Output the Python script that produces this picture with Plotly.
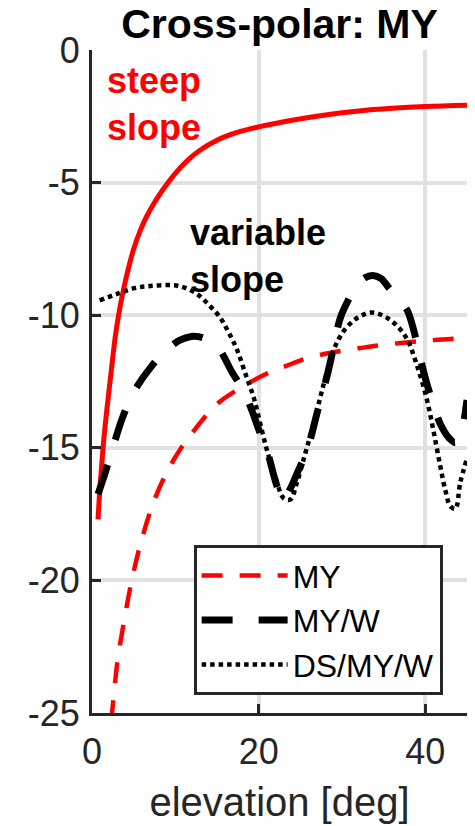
import plotly.graph_objects as go

# ---- data ----
steep_x = [0.72, 1.0, 1.3, 1.6, 2.0, 2.4, 2.8, 3.3, 3.8, 4.4, 5.0, 5.8, 6.6, 7.5, 8.5, 10.0, 11.5, 13.0, 15.0, 17.5,
           20.0, 24.0, 28.0, 32.0, 36.0, 40.0, 45.0]
steep_y = [-17.7, -16.3, -15.1, -14.1, -12.95, -11.85, -10.8, -9.8, -9.0, -8.2, -7.5, -6.8, -6.25, -5.75, -5.27, -4.65,
           -4.15, -3.77, -3.4, -3.1, -2.9, -2.65, -2.45, -2.3, -2.2, -2.13, -2.08]

my_x = [2.3, 2.52, 3.05, 3.8, 4.73, 5.85, 7.33, 8.9, 10.5, 12.5, 15.0, 18.6, 21.0, 23.4, 26.0, 28.9, 32.0, 34.6, 38.0, 41.0, 45.0]
my_y = [-25.3, -24.64, -23.07, -21.62, -20.06, -18.59, -17.1, -15.97, -15.1, -14.25, -13.35, -12.6, -12.2, -11.9, -11.6,
        -11.4, -11.25, -11.13, -11.02, -10.94, -10.86]

myw_x = [0.72, 1.42, 2.5, 3.62, 5.0, 7.2, 9.0, 10.5, 11.9, 13.3, 14.9, 16.9, 18.1, 19.2, 20.0, 21.0, 22.1,
         22.9, 23.7, 24.7, 25.8, 27.0, 28.2, 29.0, 29.8, 30.8, 31.7, 32.7, 33.7, 34.7, 35.7, 36.8, 37.8, 38.5, 39.3, 40.2,
         41.0, 41.8, 42.9, 43.6, 44.3, 45.0]
myw_y = [-16.75, -16.1, -15.0, -13.9, -12.9, -11.9, -11.3, -10.95, -10.8, -10.85, -11.13, -12.2, -12.8,
         -13.6, -14.3, -15.1, -16.35, -16.98, -16.6, -15.9, -15.1, -13.7, -12.3, -11.2, -10.1, -9.4, -8.93, -8.6, -8.5,
         -8.62, -9.0, -9.4, -9.8, -10.44, -11.5, -12.6, -13.4, -14.1, -14.65, -14.8, -14.4, -13.2]

ds_x = [0.92, 3.0, 5.1, 7.0, 9.7, 11.0, 12.6, 14.0, 15.4, 16.4, 17.4, 18.4, 19.4, 20.2, 21.0, 22.0, 23.0, 23.8, 24.6, 25.6,
        26.6, 27.8, 29.0, 30.2, 31.4, 32.4, 33.4, 34.4, 35.4, 36.6, 37.8, 39.0, 40.2, 41.0, 41.8, 42.4, 43.0, 43.6, 44.2, 45.0]
ds_y = [-9.44, -9.2, -8.98, -8.9, -8.87, -8.95, -9.2, -9.6, -10.1, -10.65, -11.3, -12.2, -13.1, -14.1, -15.1, -16.1, -16.9,
        -16.95, -16.3, -15.2, -14.1, -12.6, -11.3, -10.6, -10.2, -10.0, -9.9, -9.95, -10.1, -10.4, -10.9, -11.9, -13.2,
        -14.4, -15.7, -16.6, -17.2, -17.3, -16.3, -15.4]

x_ticks = [0, 20, 40]
y_ticks = [0, -5, -10, -15, -20, -25]

FONT = "Liberation Sans, Arial, sans-serif"
AX = "#262626"

fig = go.Figure()
fig.add_trace(go.Scatter(x=steep_x, y=steep_y, mode="lines", showlegend=False,
                         line=dict(color="#ff0000", width=5, shape="spline", smoothing=1.0)))
fig.add_trace(go.Scatter(x=my_x, y=my_y, mode="lines", name="MY",
                         line=dict(color="#ff0000", width=4.5, dash="21px,17px", shape="spline", smoothing=1.0)))
fig.add_trace(go.Scatter(x=myw_x, y=myw_y, mode="lines", name="MY/W",
                         line=dict(color="#000000", width=7, dash="31px,26px", shape="spline", smoothing=1.0)))
fig.add_trace(go.Scatter(x=ds_x, y=ds_y, mode="lines", name="DS/MY/W",
                         line=dict(color="#000000", width=4.5, dash="4.5px,4px", shape="spline", smoothing=1.0)))

fig.add_annotation(x=1.6, y=-0.3, xref="x", yref="y", xanchor="left", yanchor="top", align="left",
                   text="<b>steep<br>slope</b>", showarrow=False,
                   font=dict(family=FONT, size=36, color="#ff0000"))
fig.add_annotation(x=11.5, y=-6.05, xref="x", yref="y", xanchor="left", yanchor="top", align="left",
                   text="<b>variable<br>slope</b>", showarrow=False,
                   font=dict(family=FONT, size=36, color="#000000"))

fig.update_layout(
    width=475, height=826,
    margin=dict(l=92, r=8, t=50, b=113),
    paper_bgcolor="white", plot_bgcolor="white",
    font=dict(family=FONT, color=AX),
    title=dict(text="<b>Cross-polar: MY</b>", x=0.5, xref="paper", xanchor="center",
               y=1 - 24 / 826, yref="container", yanchor="middle",
               font=dict(family=FONT, size=41, color="#000000")),
    legend=dict(x=0.935, y=0.027, xanchor="right", yanchor="bottom",
                bgcolor="white", bordercolor=AX, borderwidth=3,
                font=dict(family=FONT, size=32, color="#000000"),
                itemwidth=86, tracegroupgap=0),
)
fig.update_xaxes(range=[0, 45], tickvals=x_ticks, ticktext=[str(v) for v in x_ticks],
                 showline=True, linecolor=AX, linewidth=3, mirror=False,
                 ticks="inside", ticklen=9, tickwidth=3, tickcolor=AX,
                 showgrid=True, gridcolor="#e1e1e1", gridwidth=4, zeroline=False,
                 tickfont=dict(family=FONT, size=36, color=AX), ticklabelstandoff=5,
                 title=dict(text="elevation [deg]", font=dict(family=FONT, size=40, color=AX), standoff=17))
fig.update_yaxes(range=[-25, 0], tickvals=y_ticks, ticktext=[str(v) for v in y_ticks],
                 showline=True, linecolor=AX, linewidth=3, mirror=False,
                 ticks="inside", ticklen=9, tickwidth=3, tickcolor=AX,
                 showgrid=True, gridcolor="#e1e1e1", gridwidth=4, zeroline=False,
                 tickfont=dict(family=FONT, size=36, color=AX), ticklabelstandoff=2)

fig.write_html("out.html")
